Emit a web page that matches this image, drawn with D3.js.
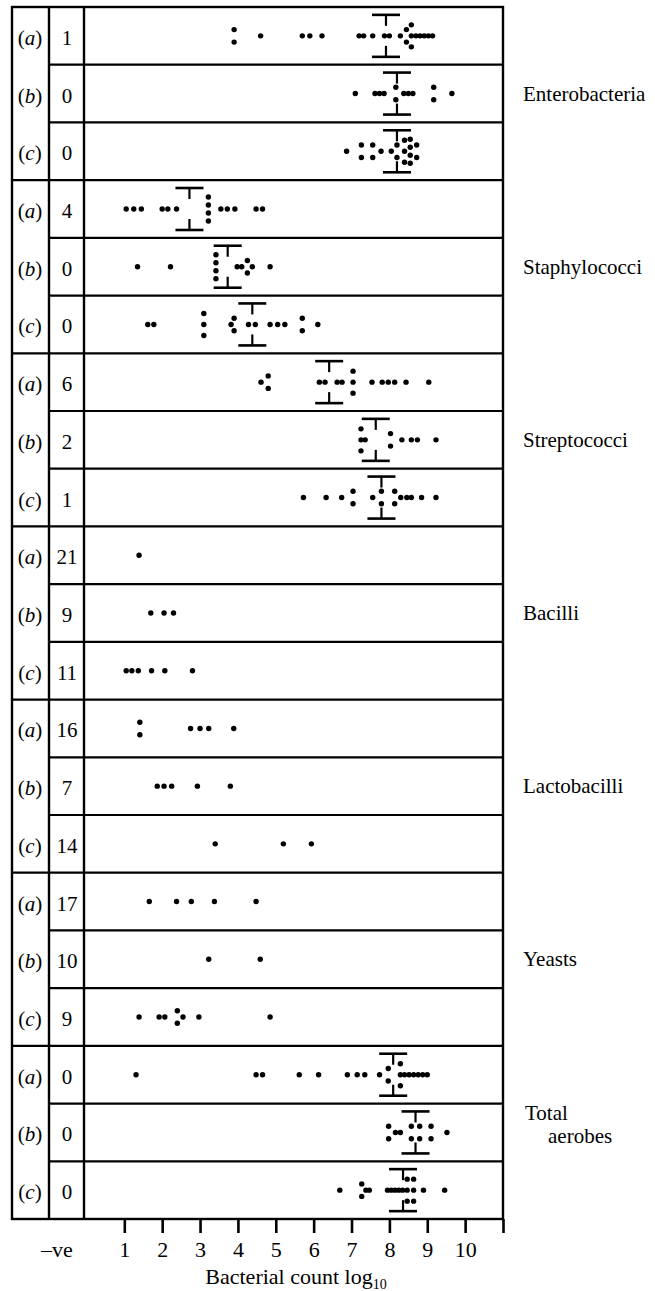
<!DOCTYPE html>
<html><head><meta charset="utf-8">
<script src="https://cdn.jsdelivr.net/npm/d3@7"></script>
<style>body{margin:0;background:#fff} text{font-family:"Liberation Serif","Times New Roman",serif;fill:#000}</style>
</head><body><svg id="chart" width="655" height="1291"></svg>
<script>
// ---- data ----
const groupNames = ["Enterobacteria","Staphylococci","Streptococci","Bacilli","Lactobacilli","Yeasts","Total aerobes"];
const subLabels = ["a","b","c"];
const negativeCounts = [1,0,0, 4,0,0, 6,2,1, 21,9,11, 16,7,14, 17,10,9, 0,0,0];
const tickValues = [1,2,3,4,5,6,7,8,9,10];
const axisTitle = "Bacterial count log";
const negLabel = "\u2013ve";

const enterobacteria = [
  [3.9,3.9,4.6,5.7,5.9,6.22,7.2,7.32,7.56,7.87,8.0,8.29,8.45,8.45,8.58,8.58,8.58,8.7,8.81,8.92,9.03,9.14],
  [7.1,7.62,7.74,7.86,8.17,8.17,8.38,8.5,8.62,9.17,9.17,9.65],
  [6.87,7.26,7.26,7.56,7.56,7.78,8.05,8.2,8.2,8.4,8.4,8.4,8.55,8.55,8.55,8.55,8.72,8.72]
];
const staphylococci = [
  [1.05,1.25,1.45,2.0,2.15,2.38,3.22,3.22,3.22,3.22,3.55,3.72,3.92,4.48,4.65],
  [1.35,2.22,3.42,3.42,3.42,3.42,3.98,4.1,4.25,4.25,4.38,4.85],
  [1.62,1.78,3.1,3.1,3.1,3.82,3.9,3.9,4.28,4.46,4.85,5.05,5.24,5.7,5.7,6.11]
];
const streptococci = [
  [4.61,4.8,4.8,6.15,6.3,6.62,6.75,7.04,7.04,7.04,7.54,7.81,7.97,8.14,8.44,9.04],
  [7.25,7.25,7.25,7.36,8.03,8.03,8.33,8.58,8.74,9.23],
  [5.73,6.33,6.74,7.04,7.04,7.56,7.79,7.79,8.14,8.14,8.3,8.46,8.58,8.85,9.23]
];
const bacilli = [
  [1.39],
  [1.7,2.05,2.3],
  [1.05,1.2,1.37,1.72,2.07,2.8]
];
const lactobacilli = [
  [1.41,1.41,2.75,3.0,3.23,3.89],
  [1.87,2.05,2.25,2.93,3.8],
  [3.4,5.2,5.94]
];
const yeasts = [
  [1.66,2.38,2.77,3.38,4.48],
  [3.23,4.59],
  [1.39,1.92,2.07,2.4,2.4,2.55,2.97,4.85]
];
const totalAerobes = [
  [1.31,4.48,4.65,5.62,6.13,6.89,7.15,7.35,7.74,7.97,7.97,8.29,8.29,8.29,8.4,8.52,8.64,8.76,8.88,9.0],
  [7.98,7.98,8.16,8.29,8.58,8.58,8.8,8.8,9.1,9.1,9.52],
  [6.69,7.27,7.27,7.38,7.47,7.95,8.05,8.15,8.25,8.35,8.47,8.47,8.47,8.64,8.64,8.64,8.9,9.46]
];
// mean markers (null = none)
const meanValues = [7.91,8.2,8.2, 2.72,3.73,4.38, 6.41,7.64,7.79, null,null,null, null,null,null, null,null,null, 8.1,8.69,8.36];

// ---- layout ----
const svg = d3.select("#chart");
const box = {left:12, right:503, top:7, bottom:1219};
const colA = 49, colB = 84;
const FS = 21;
const x = d3.scaleLinear().domain([1,11]).range([124.3, box.right]);
const nRows = 21;
const y = d3.scaleBand().domain(d3.range(nRows)).range([box.top, box.bottom]);
const bw = y.bandwidth();
const cy = i => y(i) + bw/2;

const rows = [enterobacteria, staphylococci, streptococci, bacilli, lactobacilli, yeasts, totalAerobes].flat();

// frame
const g = svg.append("g").attr("stroke","#000").attr("fill","none");
g.append("rect").attr("x",box.left).attr("y",box.top).attr("width",box.right-box.left).attr("height",box.bottom-box.top).attr("stroke-width",2.4);
[colA,colB].forEach(cx => g.append("line").attr("x1",cx).attr("x2",cx).attr("y1",box.top).attr("y2",box.bottom).attr("stroke-width",2.4));
d3.range(1,nRows).forEach(i => {
  g.append("line").attr("x1", i%3===0 ? box.left : colA).attr("x2",box.right)
   .attr("y1",y(i)).attr("y2",y(i)).attr("stroke-width",2.2);
});

// stacking offsets for coincident values
function offsets(n){
  if(n===1) return [0];
  if(n===2) return [-6.25,6.25];
  if(n===3) return [-11,0,11];
  const s = 24/(n-1); return d3.range(n).map(k => -12 + k*s);
}
const dots = [];
rows.forEach((vals,i) => {
  d3.group(vals, v => v).forEach((arr,v) => {
    offsets(arr.length).forEach(o => dots.push({v, row:i, o}));
  });
});
svg.append("g").selectAll("circle").data(dots).join("circle")
  .attr("cx", d => x(d.v)).attr("cy", d => cy(d.row) + d.o).attr("r", 2.7).attr("fill","#000");

// mean bars
const eb = svg.append("g").attr("stroke","#000");
meanValues.forEach((m,i) => {
  if(m == null) return;
  const mx = x(m), c = cy(i);
  [-1,1].forEach(s => {
    eb.append("line").attr("x1",mx-14).attr("x2",mx+14).attr("y1",c+s*21).attr("y2",c+s*21).attr("stroke-width",2.6);
    eb.append("line").attr("x1",mx).attr("x2",mx).attr("y1",c+s*21).attr("y2",c+s*10).attr("stroke-width",2.2);
  });
});

// row labels and counts
rows.forEach((vals,i) => {
  const t = svg.append("text").attr("x",30).attr("y",cy(i)+9).attr("text-anchor","middle").attr("font-size",FS);
  t.append("tspan").text("(");
  t.append("tspan").attr("font-style","italic").text(subLabels[i%3]);
  t.append("tspan").text(")");
  svg.append("text").attr("x",67).attr("y",cy(i)+9).attr("text-anchor","middle").attr("font-size",FS).text(negativeCounts[i]);
});

// group labels
groupNames.forEach((name,gi) => {
  const c = cy(gi*3+1);
  if(name === "Total aerobes"){
    svg.append("text").attr("x",525).attr("y",c-12).attr("font-size",FS).text("Total");
    svg.append("text").attr("x",548).attr("y",c+11).attr("font-size",FS).text("aerobes");
  } else {
    svg.append("text").attr("x",523).attr("y",c+7).attr("font-size",FS).text(name);
  }
});

// axis
const axis = d3.axisBottom(x).tickValues(tickValues.concat([11])).tickSize(14).tickPadding(8)
  .tickFormat(d => d === 11 ? "" : d);
const ag = svg.append("g").attr("transform",`translate(0,${box.bottom})`).call(axis);
ag.select(".domain").remove();
ag.selectAll(".tick line").attr("stroke","#000").attr("stroke-width",2.6);
ag.selectAll(".tick text").attr("font-size",FS+1).attr("font-family","Liberation Serif").attr("fill","#000");

svg.append("text").attr("x",57).attr("y",1257).attr("text-anchor","middle").attr("font-size",FS+1).text(negLabel);
const tt = svg.append("text").attr("x",296).attr("y",1284).attr("text-anchor","middle").attr("font-size",FS+1);
tt.append("tspan").text(axisTitle);
tt.append("tspan").attr("font-size",14).attr("dy",5).text("10");
</script></body></html>
